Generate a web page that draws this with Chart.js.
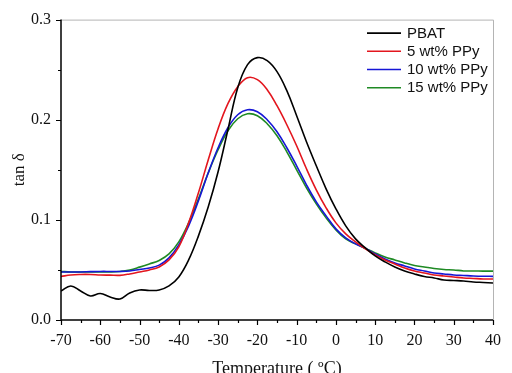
<!DOCTYPE html>
<html>
<head>
<meta charset="utf-8">
<script src="https://cdn.jsdelivr.net/npm/chart.js@4.4.1/dist/chart.umd.min.js"></script>
<style>
  html, body { margin: 0; padding: 0; background: #fff; }
  #wrap { width: 512px; height: 373px; position: relative; }
</style>
</head>
<body>
<div id="wrap"><canvas id="c" width="512" height="373"></canvas></div>
<script>
const temps = [-70,-67.5,-65,-62.5,-60,-57.5,-55,-52.5,-50,-47.5,-45,-42.5,-40,-37.5,-35,-32.5,-30,-27.5,-25,-22.5,-20,-17.5,-15,-12.5,-10,-7.5,-5,-2.5,0,2.5,5,7.5,10,12.5,15,17.5,20,22.5,25,27.5,30,32.5,35,37.5,40];

const pbat = [0.029,0.034,0.029,0.024,0.0265,0.023,0.021,0.027,0.030,0.0295,0.030,0.034,0.043,0.060,0.084,0.113,0.148,0.190,0.232,0.255,0.262,0.259,0.248,0.229,0.204,0.178,0.154,0.131,0.111,0.094,0.081,0.072,0.064,0.058,0.053,0.049,0.046,0.0435,0.042,0.040,0.0395,0.039,0.038,0.0375,0.037];

const ppy5 = [0.0435,0.045,0.0455,0.0455,0.045,0.0448,0.0446,0.046,0.048,0.050,0.053,0.060,0.073,0.097,0.127,0.160,0.191,0.216,0.233,0.242,0.240,0.230,0.214,0.195,0.174,0.151,0.130,0.112,0.097,0.086,0.078,0.071,0.065,0.060,0.056,0.052,0.049,0.047,0.045,0.044,0.043,0.042,0.0415,0.041,0.041];

const ppy10 = [0.048,0.048,0.048,0.0483,0.0485,0.0485,0.0485,0.049,0.0505,0.052,0.0548,0.062,0.075,0.094,0.119,0.147,0.172,0.192,0.205,0.210,0.208,0.200,0.188,0.172,0.154,0.135,0.118,0.104,0.091,0.082,0.076,0.0715,0.066,0.061,0.057,0.054,0.051,0.049,0.047,0.046,0.045,0.0445,0.044,0.0437,0.0436];

const ppy15 = [0.0485,0.048,0.048,0.048,0.048,0.048,0.0485,0.050,0.0528,0.056,0.0595,0.066,0.078,0.097,0.121,0.147,0.170,0.189,0.201,0.206,0.204,0.196,0.184,0.168,0.150,0.132,0.116,0.102,0.090,0.081,0.076,0.0715,0.067,0.063,0.060,0.057,0.0545,0.053,0.0515,0.0505,0.050,0.049,0.049,0.0488,0.0488];

const seriesLabels = ['PBAT', '5 wt% PPy', '10 wt% PPy', '15 wt% PPy'];
const seriesColors = ['#000000', '#e3161e', '#1616d6', '#1f8a24'];
const xTicks = [-70,-60,-50,-40,-30,-20,-10,0,10,20,30,40];
const yTicks = [0.0, 0.1, 0.2, 0.3];
const xTitle = 'Temperature ( ºC)';
const yTitle = 'tan δ';

const allSeries = [pbat, ppy5, ppy10, ppy15];
const datasets = allSeries.map((vals, i) => ({
  label: seriesLabels[i],
  data: temps.map((t, j) => ({x: t, y: vals[j]})),
  borderColor: seriesColors[i],
  borderWidth: 1.6,
  pointRadius: 0,
  fill: false,
  tension: 0.4
}));

const serif = "'Liberation Serif', 'DejaVu Serif', serif";

const framePlugin = {
  id: 'frame',
  afterDraw(chart) {
    const {ctx, chartArea: a, scales: {x, y}} = chart;
    ctx.save();
    ctx.strokeStyle = '#b4b4b4';
    ctx.lineWidth = 1;
    ctx.beginPath();
    ctx.moveTo(a.left, a.top + 0.5);
    ctx.lineTo(a.right + 0.5, a.top + 0.5);
    ctx.lineTo(a.right + 0.5, a.bottom);
    ctx.stroke();
    ctx.strokeStyle = '#000';
    ctx.lineWidth = 1.5;
    ctx.beginPath();
    ctx.moveTo(a.left, a.top);
    ctx.lineTo(a.left, a.bottom);
    ctx.lineTo(a.right, a.bottom);
    ctx.stroke();
    ctx.lineWidth = 1.2;
    ctx.beginPath();
    for (let v = x.min; v <= x.max + 1e-9; v += 5) {
      const px = Math.round(x.getPixelForValue(v)) + 0.5;
      const major = xTicks.includes(v);
      ctx.moveTo(px, a.bottom);
      ctx.lineTo(px, a.bottom + (major ? 5 : 3));
    }
    for (let v = y.min; v <= y.max + 1e-9; v += 0.05) {
      const py = Math.round(y.getPixelForValue(v)) + 0.5;
      const major = yTicks.some(t => Math.abs(t - v) < 1e-6);
      ctx.moveTo(a.left, py);
      ctx.lineTo(a.left - (major ? 5 : 3), py);
    }
    ctx.stroke();
    ctx.font = "15px 'Liberation Sans', Arial, sans-serif";
    ctx.textBaseline = 'middle';
    ctx.textAlign = 'left';
    const lx0 = a.right - 126, lx1 = a.right - 92, tx = a.right - 86;
    chart.data.datasets.forEach((ds, i) => {
      const yy = a.top + 13.5 + i * 18.2;
      ctx.strokeStyle = ds.borderColor;
      ctx.lineWidth = 1.6;
      ctx.beginPath();
      ctx.moveTo(lx0, yy);
      ctx.lineTo(lx1, yy);
      ctx.stroke();
      ctx.fillStyle = '#111';
      ctx.fillText(ds.label, tx, yy + 0.5);
    });
    ctx.restore();
  }
};

new Chart(document.getElementById('c'), {
  type: 'line',
  data: { datasets },
  options: {
    responsive: false,
    animation: false,
    devicePixelRatio: 1,
    layout: { padding: { left: 0, right: 17, top: 17, bottom: 0 } },
    plugins: { legend: { display: false }, tooltip: { enabled: false } },
    scales: {
      x: {
        type: 'linear',
        min: -70, max: 40,
        afterFit(s) { s.height = 53; },
        afterBuildTicks(s) { s.ticks = xTicks.map(v => ({value: v})); },
        grid: { display: false, drawTicks: false },
        border: { display: false },
        ticks: { padding: 11, color: '#111', font: { family: serif, size: 16 }, maxRotation: 0, autoSkip: false,
                  callback: v => String(v) },
        title: { display: true, text: xTitle, color: '#111', font: { family: serif, size: 18 },
                 padding: { top: 0, bottom: -7 } }
      },
      y: {
        type: 'linear',
        min: 0, max: 0.3,
        afterFit(s) { s.width = 61; },
        afterBuildTicks(s) { s.ticks = yTicks.map(v => ({value: v})); },
        grid: { display: false, drawTicks: false },
        border: { display: false },
        ticks: { padding: 10, color: '#111', font: { family: serif, size: 16 },
                 callback: v => Number(v).toFixed(1) },
        title: { display: true, text: yTitle, color: '#111', font: { family: serif, size: 17 },
                 padding: { top: 9, bottom: 0 } }
      }
    }
  },
  plugins: [framePlugin]
});
</script>
</body>
</html>
